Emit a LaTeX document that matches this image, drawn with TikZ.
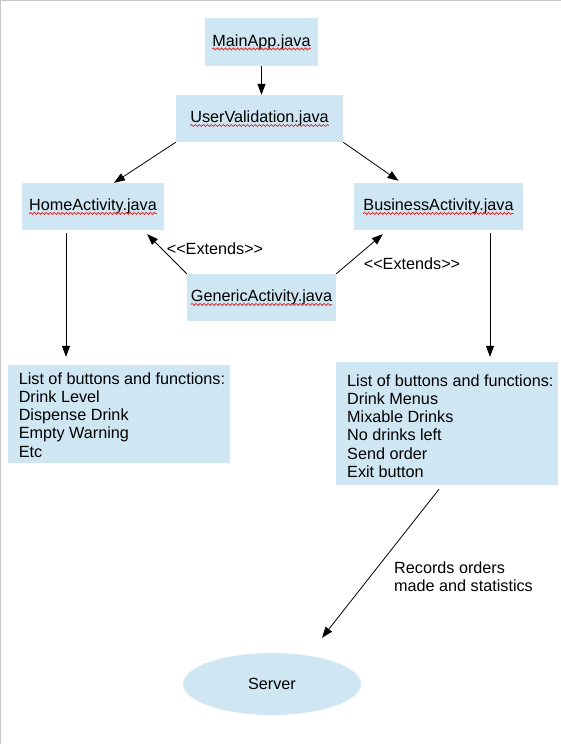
\documentclass[tikz,border=0pt]{standalone}
\usepackage{fontspec}
\setmainfont{Liberation Sans}
\usetikzlibrary{arrows.meta,shapes.geometric,decorations.pathmorphing}
\definecolor{boxblue}{RGB}{207,230,243}
\definecolor{framegray}{RGB}{200,200,200}
\definecolor{spellred}{RGB}{225,40,40}
\tikzset{
  box/.style={fill=boxblue, draw=none, inner sep=0pt},
  txt/.style={inner sep=0pt, font=\fontsize{16.2}{18.2}\selectfont},
  arr/.style={draw=black, line width=0.8pt, -{Triangle[length=11pt,width=8pt]}},
  wavy/.style={draw=spellred, line width=0.75pt, decorate,
    decoration={snake, amplitude=1pt, segment length=4pt}},
}
\begin{document}
\begin{tikzpicture}[x=1pt,y=-1pt]
\useasboundingbox (0,0) rectangle (561,744);
\draw[framegray, line width=1pt] (0,0.5) -- (561,0.5);
\draw[framegray, line width=1pt] (0.5,0) -- (0.5,744);

% boxes
\node[box, minimum width=113, minimum height=48] (main) at (261.5,42) {};
\node[box, minimum width=167, minimum height=47] (uv) at (259.5,118.5) {};
\node[box, minimum width=142, minimum height=47] (home) at (93,206.5) {};
\node[box, minimum width=169, minimum height=47] (bus) at (438.5,206.5) {};
\node[box, minimum width=149, minimum height=47] (gen) at (261.5,297.5) {};
\node[box, minimum width=222, minimum height=98] (llist) at (119,414) {};
\node[box, minimum width=222, minimum height=123] (rlist) at (447,423.5) {};
\node[box, ellipse, minimum width=178, minimum height=62] (server) at (272,684) {};

% texts
\node[txt] (mainT) at (main) {MainApp.java};
\node[txt] (uvT) at (uv) {UserValidation.java};
\node[txt] (homeT) at (home) {HomeActivity.java};
\node[txt] (busT) at (bus) {BusinessActivity.java};
\node[txt] (genT) at (gen) {GenericActivity.java};
\node[txt, align=left, anchor=north west] (llistT) at (18.6,372.4)
  {List of buttons and functions:\\Drink Level\\Dispense Drink\\Empty Warning\\Etc};
\node[txt, align=left, anchor=north west] (rlistT) at (347,374.4)
  {List of buttons and functions:\\Drink Menus\\Mixable Drinks\\No drinks left\\Send order\\Exit button};
\node[txt] (serverT) at (server) {Server};
\node[txt] (ext1) at (215,249) {<{}<Extends>{}>};
\node[txt] (ext2) at (412,264) {<{}<Extends>{}>};
\node[txt, align=left, anchor=west] (rec) at (394,577) {Records orders\\made and statistics};

% spell-check underlines
\foreach \t in {mainT,uvT,homeT,busT,genT}
  \draw[wavy] ([yshift=-2.8pt]\t.base west) -- ([yshift=-2.8pt]\t.base east);

% connectors
\draw[arr] (main.south) -- (main.south |- uv.north);
\draw[arr] (uv.south west) -- ([xshift=21pt]home.north);
\draw[arr] (uv.south east) -- ([xshift=-40pt,yshift=2pt]bus.north);
\draw[arr] (gen.north west) -- ([xshift=-17pt,yshift=-4pt]home.south east);
\draw[arr] (gen.north east) -- ([xshift=29pt,yshift=-4pt]bus.south west);
\draw[arr] ([xshift=-27pt,yshift=-3pt]home.south) -- ([xshift=-53pt,yshift=8pt]llist.north);
\draw[arr] ([xshift=51.5pt,yshift=-3pt]bus.south) -- ([xshift=43pt,yshift=5pt]rlist.north);
\draw[arr] ([xshift=-8pt,yshift=-4pt]rlist.south) -- ([xshift=50pt,yshift=15pt]server.north);
\end{tikzpicture}
\end{document}
